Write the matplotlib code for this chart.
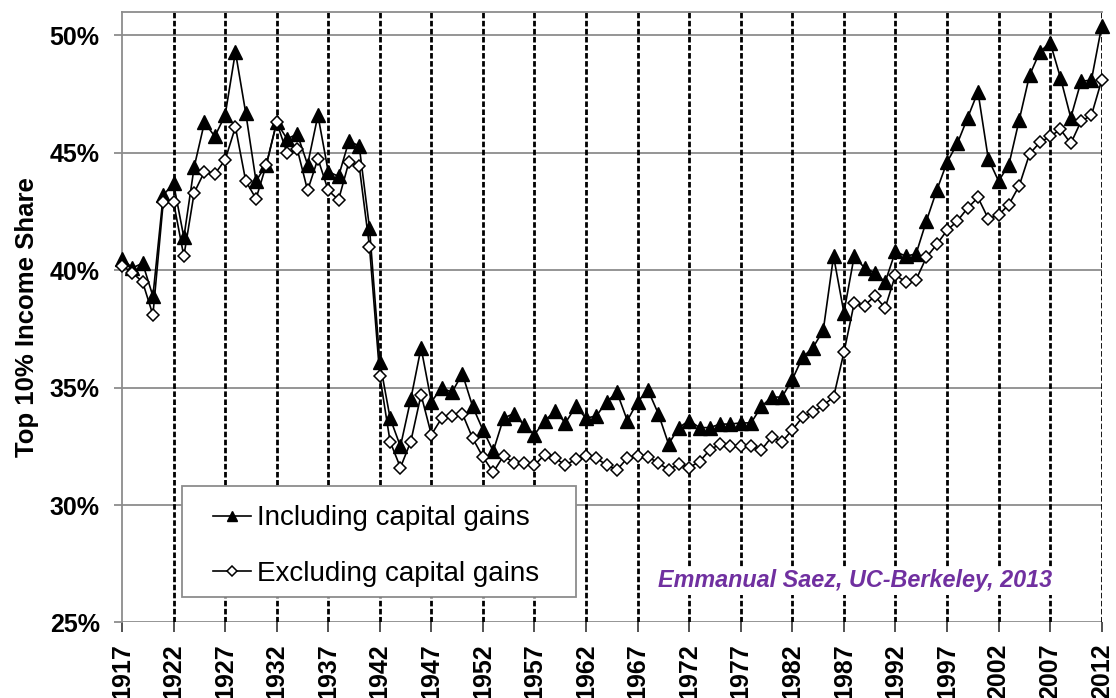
import matplotlib
matplotlib.use("Agg")
import matplotlib.pyplot as plt
from matplotlib.patches import Rectangle
import numpy as np

plt.rcParams['font.family'] = ['Liberation Sans', 'DejaVu Sans']

years = list(range(1917, 2013))

including = [
    40.5, 40.1, 40.3, 38.9, 43.2, 43.7, 41.4, 44.4, 46.3, 45.7,   # 1917-1926
    46.6, 49.3, 46.7, 43.8, 44.5, 46.3, 45.6, 45.8, 44.5, 46.6,   # 1927-1936
    44.2, 44.0, 45.5, 45.3, 41.8, 36.1, 33.7, 32.5, 34.5, 36.7,   # 1937-1946
    34.4, 35.0, 34.8, 35.6, 34.2, 33.2, 32.3, 33.7, 33.9, 33.4,   # 1947-1956
    33.0, 33.6, 34.0, 33.5, 34.2, 33.7, 33.8, 34.4, 34.8, 33.6,   # 1957-1966
    34.4, 34.9, 33.9, 32.6, 33.3, 33.6, 33.3, 33.3, 33.45, 33.45, # 1967-1976
    33.5, 33.5, 34.2, 34.6, 34.6, 35.35, 36.3, 36.7, 37.45, 40.6, # 1977-1986
    38.2, 40.6, 40.1, 39.9, 39.5, 40.8, 40.6, 40.7, 42.1, 43.4,   # 1987-1996
    44.6, 45.4, 46.5, 47.6, 44.75, 43.8, 44.5, 46.4, 48.3, 49.3,  # 1997-2006
    49.7, 48.2, 46.5, 48.05, 48.1, 50.4,                          # 2007-2012
]

excluding = [
    40.2, 39.9, 39.5, 38.1, 42.9, 42.9, 40.6, 43.3, 44.2, 44.1,   # 1917-1926
    44.7, 46.1, 43.8, 43.05, 44.5, 46.3, 45.0, 45.15, 43.4, 44.75,# 1927-1936
    43.4, 43.0, 44.6, 44.45, 41.0, 35.5, 32.7, 31.6, 32.7, 34.7,  # 1937-1946
    33.0, 33.7, 33.8, 33.9, 32.85, 32.05, 31.4, 32.1, 31.8, 31.8, # 1947-1956
    31.7, 32.15, 32.0, 31.7, 31.95, 32.1, 32.0, 31.7, 31.5, 32.0, # 1957-1966
    32.1, 32.05, 31.8, 31.5, 31.75, 31.6, 31.85, 32.35, 32.6, 32.5,  # 1967-1976
    32.5, 32.5, 32.35, 32.9, 32.7, 33.2, 33.75, 33.95, 34.25, 34.6,  # 1977-1986
    36.5, 38.6, 38.5, 38.9, 38.4, 39.8, 39.5, 39.6, 40.55, 41.1,  # 1987-1996
    41.7, 42.1, 42.65, 43.1, 42.2, 42.35, 42.8, 43.6, 44.95, 45.45,  # 1997-2006
    45.7, 46.0, 45.4, 46.35, 46.6, 48.1,                          # 2007-2012
]

xtick_years = list(range(1917, 2013, 5))
ytick_values = [25, 30, 35, 40, 45, 50]
ytick_labels = [f"{v}%" for v in ytick_values]

series_labels = ["Including capital gains", "Excluding capital gains"]
credit = "Emmanual Saez, UC-Berkeley, 2013"
ylabel = "Top 10% Income Share"

assert len(years) == len(including) == len(excluding)

fig = plt.figure(figsize=(11.16, 6.98), dpi=100)
ax = fig.add_axes([0.1093, 0.1082, 0.9872 - 0.1093, 0.9828 - 0.1082])

grid_gray = '#8c8c8c'

# horizontal gridlines
for v in ytick_values:
    ax.axhline(v, color=grid_gray, lw=1.3, zorder=1)

# vertical dashed lines
for yr in xtick_years[1:]:
    ax.axvline(yr, color='black', lw=2.0, ls=(0, (2.0, 0.9)), zorder=1)

ax.plot(years, including, color='black', lw=1.2, marker='^', ms=9.5,
        mfc='black', mec='black', zorder=3, label=series_labels[0],
        clip_on=False)
ax.plot(years, excluding, color='black', lw=1.2, marker='D', ms=6.5,
        mfc='white', mec='black', mew=1.1, zorder=4, label=series_labels[1],
        clip_on=False)

ax.set_xlim(1917, 2012)
ax.set_ylim(25, 51)

ax.set_yticks(ytick_values)
ax.set_yticklabels(ytick_labels, fontsize=18, fontweight='bold')
ax.set_xticks(xtick_years)
ax.set_xticklabels([str(y) for y in xtick_years], fontsize=18,
                   fontweight='bold', rotation=90)
ax.tick_params(axis='y', length=6, width=1.3, color=grid_gray, pad=10)
ax.tick_params(axis='x', length=7, width=1.2, color='#333333', pad=8)

for side in ['right', 'bottom']:
    ax.spines[side].set_visible(False)
for side in ['left', 'top']:
    ax.spines[side].set_color(grid_gray)
    ax.spines[side].set_linewidth(1.3)

ax.set_ylabel(ylabel, fontsize=18.5, fontweight='bold', labelpad=8)

# legend box
box = Rectangle((0.0609, 0.0418), 0.463 - 0.0609, 0.2236 - 0.0418,
                transform=ax.transAxes, facecolor='white', edgecolor=grid_gray,
                lw=1.3, zorder=5)
ax.add_patch(box)
leg = ax.legend(loc='upper left', bbox_to_anchor=(0.0932, 0.192),
                frameon=False, fontsize=20, handlelength=1.37,
                handletextpad=0.2, labelspacing=1.07, borderpad=0,
                borderaxespad=0, markerscale=0.8)
leg.set_zorder(6)

ax.text(0.748, 0.068, credit, transform=ax.transAxes, ha='center', va='center',
        fontsize=16.8, fontweight='bold', fontstyle='italic', color='#7030A0',
        zorder=6, bbox=dict(facecolor='white', edgecolor='none', pad=1.5))

fig.savefig('out.png', dpi=100)
